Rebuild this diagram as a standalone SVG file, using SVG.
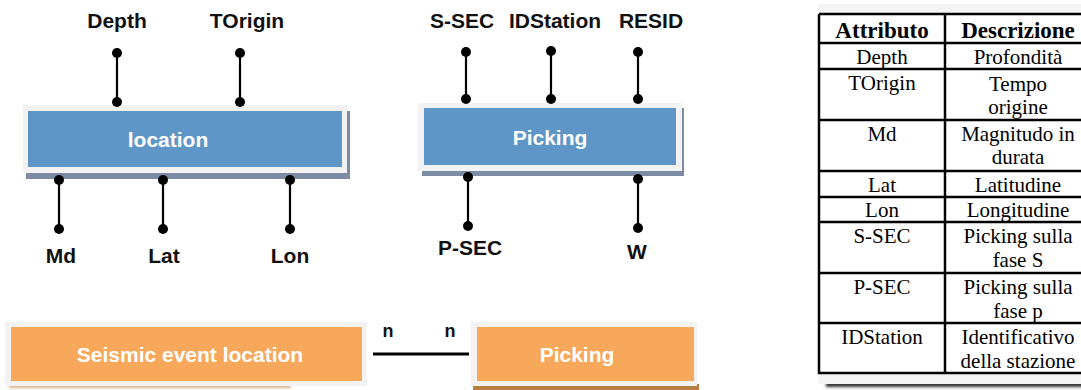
<svg xmlns="http://www.w3.org/2000/svg" width="1081" height="390" viewBox="0 0 1081 390">
<style>
.lbl{font-family:"Liberation Sans",Arial,sans-serif;font-weight:bold;font-size:21px;fill:#111;text-anchor:middle}
.wl{font-family:"Liberation Sans",Arial,sans-serif;font-weight:bold;font-size:21px;fill:#fff;text-anchor:middle}
.frame{fill:#f2f2f2}
.blue{fill:#5f96c8}
.bsh{fill:#7a8ba3}
.orange{fill:#f8a85a}
.pin{stroke:#000;stroke-width:2.2;fill:none}
.dot{fill:#000}
.th{font-family:"Liberation Serif","Times New Roman",serif;font-weight:bold;font-size:23px;fill:#000;text-anchor:middle}
.td{font-family:"Liberation Serif","Times New Roman",serif;font-size:21px;fill:#000;text-anchor:middle}
.grid{stroke:#000;stroke-width:2.5;fill:none}
</style>
<defs>
<filter id="blur2" x="-10%" y="-50%" width="120%" height="200%"><feGaussianBlur stdDeviation="1.5"/></filter>
</defs>
<rect width="1081" height="390" fill="#fff"/>

<g id="location">
<rect class="bsh" x="26" y="111" width="324" height="68"/>
<rect class="frame" x="23" y="105" width="324" height="68"/>
<rect class="blue" x="28" y="111" width="314" height="56"/>
<text class="wl" x="168" y="147">location</text>
</g>

<g id="picking">
<rect class="bsh" x="422" y="108" width="262" height="68"/>
<rect class="frame" x="418" y="103" width="264" height="68"/>
<rect class="blue" x="424" y="108" width="252" height="57"/>
<text class="wl" x="550" y="145">Picking</text>
</g>

<g id="attr-depth"><text class="lbl" x="117" y="28">Depth</text></g>
<g id="attr-torigin"><text class="lbl" x="247" y="28">TOrigin</text></g>
<g id="attr-md"><text class="lbl" x="61" y="263">Md</text></g>
<g id="attr-lat"><text class="lbl" x="164" y="263">Lat</text></g>
<g id="attr-lon"><text class="lbl" x="290" y="263">Lon</text></g>
<g id="attr-ssec"><text class="lbl" x="462" y="28">S-SEC</text></g>
<g id="attr-idstation"><text class="lbl" x="555" y="28">IDStation</text></g>
<g id="attr-resid"><text class="lbl" x="651" y="28">RESID</text></g>
<g id="attr-psec"><text class="lbl" x="470" y="255">P-SEC</text></g>
<g id="attr-w"><text class="lbl" x="637" y="259">W</text></g>

<g id="seismic-event-location">
<rect x="9" y="382" width="282" height="6" fill="#d8b088" filter="url(#blur2)"/>
<rect class="frame" x="5" y="322" width="362" height="64"/>
<rect class="orange" x="11" y="327" width="351" height="54"/>
<text class="wl" x="190" y="362">Seismic event location</text>
</g>

<g id="picking-entity">
<rect x="473" y="384" width="226" height="6" fill="#b88040"/>
<rect class="frame" x="471" y="322" width="226" height="64"/>
<rect class="orange" x="477" y="327" width="217" height="54"/>
<text class="wl" x="577" y="362">Picking</text>
</g>

<g id="connectors">
<line class="pin" x1="117" y1="53" x2="117" y2="102"/>
<circle class="dot" cx="117" cy="53" r="5"/><circle class="dot" cx="117" cy="102" r="5"/>
<line class="pin" x1="240" y1="53" x2="240" y2="102"/>
<circle class="dot" cx="240" cy="53" r="5"/><circle class="dot" cx="240" cy="102" r="5"/>
<line class="pin" x1="59" y1="180" x2="59" y2="229"/>
<circle class="dot" cx="59" cy="180" r="5"/><circle class="dot" cx="59" cy="229" r="5"/>
<line class="pin" x1="163" y1="180" x2="163" y2="229"/>
<circle class="dot" cx="163" cy="180" r="5"/><circle class="dot" cx="163" cy="229" r="5"/>
<line class="pin" x1="290" y1="180" x2="290" y2="229"/>
<circle class="dot" cx="290" cy="180" r="5"/><circle class="dot" cx="290" cy="229" r="5"/>

<line class="pin" x1="466" y1="52" x2="466" y2="99"/>
<circle class="dot" cx="466" cy="52" r="5"/><circle class="dot" cx="466" cy="99" r="5"/>
<line class="pin" x1="551" y1="51" x2="551" y2="99"/>
<circle class="dot" cx="551" cy="51" r="5"/><circle class="dot" cx="551" cy="99" r="5"/>
<line class="pin" x1="638" y1="52" x2="638" y2="99"/>
<circle class="dot" cx="638" cy="52" r="5"/><circle class="dot" cx="638" cy="99" r="5"/>
<line class="pin" x1="468" y1="177" x2="468" y2="226"/>
<circle class="dot" cx="468" cy="177" r="5"/><circle class="dot" cx="468" cy="226" r="5"/>
<line class="pin" x1="638" y1="179" x2="638" y2="228"/>
<circle class="dot" cx="638" cy="179" r="5"/><circle class="dot" cx="638" cy="228" r="5"/>

<line x1="373" y1="354" x2="469" y2="354" stroke="#000" stroke-width="3"/>
<text class="lbl" x="388" y="337" style="font-size:18px">n</text>
<text class="lbl" x="450" y="337" style="font-size:18px">n</text>
</g>

<g id="attribute-table">
<rect x="826" y="381" width="270" height="6" fill="#333" filter="url(#blur2)"/>
<rect x="818" y="4" width="280" height="380" fill="#f4f4f4"/>
<rect x="819" y="14" width="272" height="359" fill="#fff"/>
<path class="grid" d="M819 14H1092M819 14V373H1092M945 14V373M819 43H1092M819 69H1092M819 120H1092M819 171H1092M819 197H1092M819 222H1092M819 273H1092M819 323H1092"/>
<text class="th" x="882" y="38">Attributo</text>
<text class="th" x="1018" y="38">Descrizione</text>
<text class="td" x="882" y="64">Depth</text>
<text class="td" x="1018" y="64">Profondità</text>
<text class="td" x="882" y="90">TOrigin</text>
<text class="td" x="1018" y="91">Tempo</text>
<text class="td" x="1018" y="114">origine</text>
<text class="td" x="882" y="141">Md</text>
<text class="td" x="1018" y="141">Magnitudo in</text>
<text class="td" x="1018" y="164">durata</text>
<text class="td" x="882" y="192">Lat</text>
<text class="td" x="1018" y="192">Latitudine</text>
<text class="td" x="882" y="217">Lon</text>
<text class="td" x="1018" y="217">Longitudine</text>
<text class="td" x="882" y="243">S-SEC</text>
<text class="td" x="1018" y="243">Picking sulla</text>
<text class="td" x="1018" y="267">fase S</text>
<text class="td" x="882" y="294">P-SEC</text>
<text class="td" x="1018" y="294">Picking sulla</text>
<text class="td" x="1018" y="318">fase p</text>
<text class="td" x="882" y="344">IDStation</text>
<text class="td" x="1018" y="344">Identificativo</text>
<text class="td" x="1018" y="368">della stazione</text>
</g>
</svg>
